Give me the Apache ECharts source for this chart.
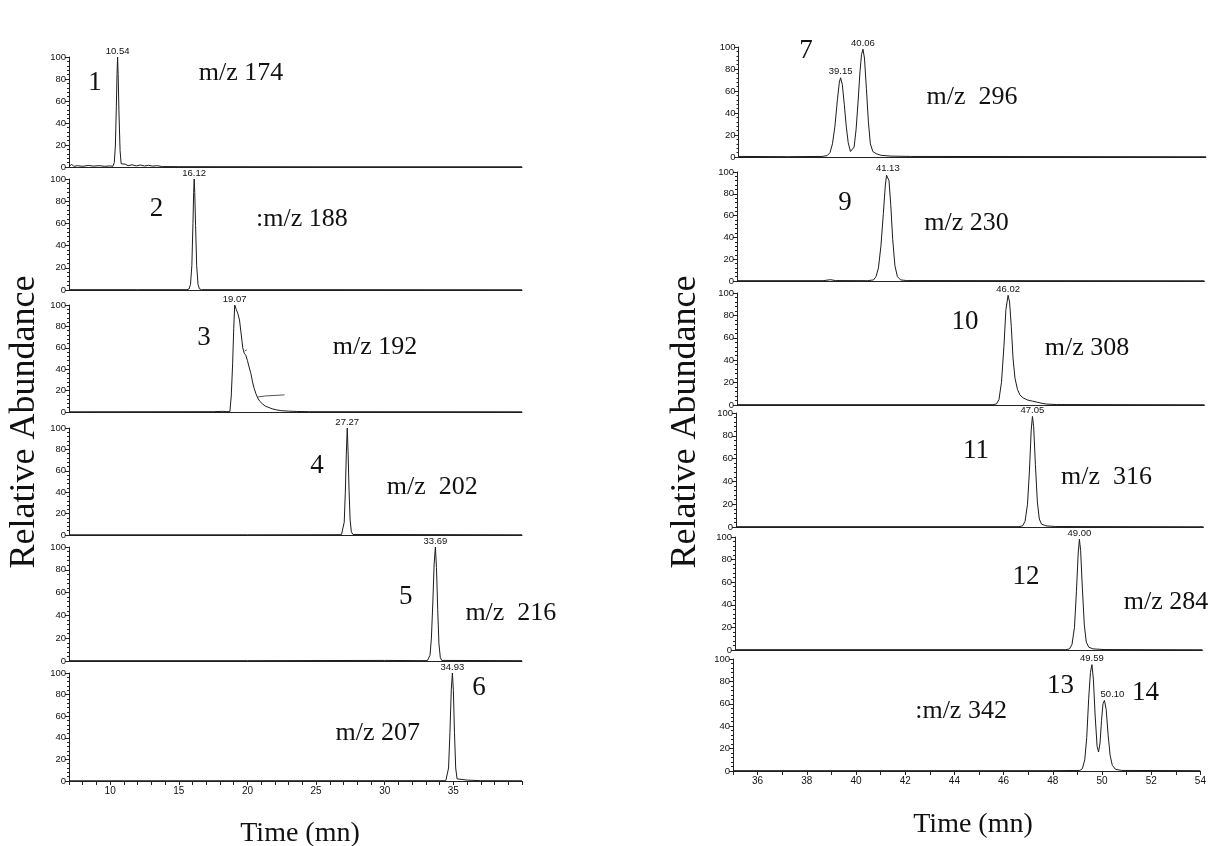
<!DOCTYPE html>
<html>
<head>
<meta charset="utf-8">
<script src="https://cdn.jsdelivr.net/npm/echarts@6/dist/echarts.min.js"></script>
<style>
html,body{margin:0;padding:0;background:#fff;}
#chart{width:1215px;height:846px;}
</style>
</head>
<body>
<div id="chart"></div>
<script>
// ---------- DATA ----------
const leftRange = [7, 40];
const rightRange = [35, 54];
const leftTickLabels = [10, 15, 20, 25, 30, 35];
const rightTickLabels = [36, 38, 40, 42, 44, 46, 48, 50, 52, 54];
const yTickLabels = [0, 20, 40, 60, 80, 100];

const mzLabels = ['m/z 174', ':m/z 188', 'm/z 192', 'm/z  202', 'm/z  216', 'm/z 207',
                  'm/z  296', 'm/z 230', 'm/z 308', 'm/z  316', 'm/z 284', ':m/z 342'];
const compoundNumbers = [['1'], ['2'], ['3'], ['4'], ['5'], ['6'],
                         ['7', '8'], ['9'], ['10'], ['11'], ['12'], ['13', '14']];
const retentionTimes = [[10.54], [16.12], [19.07], [27.27], [33.69], [34.93],
                        [39.15, 40.06], [41.13], [46.02], [47.05], [49.00], [49.59, 50.10]];
const peakHeights = [[100], [100], [100], [100], [100], [100],
                     [72, 98], [98], [98], [97], [98], [95, 63]];

// chromatogram traces: [time (min), relative abundance]
const trace174 = [[7,0.5],[7.2,2.5],[7.35,0.5],[7.6,1.2],[8,0.6],[8.4,1.4],[8.8,0.8],[9.2,1.2],[9.6,0.6],[10,1.0],[10.2,0.6],[10.3,4],[10.38,20],[10.45,55],[10.5,85],[10.54,100],[10.58,84],[10.64,50],[10.72,15],[10.8,3],[10.9,1.5],[11.1,2.5],[11.3,1.2],[11.6,2.0],[11.9,1.0],[12.2,1.8],[12.5,0.9],[12.8,1.5],[13.1,0.8],[13.4,1.2],[13.8,0.4],[15,0.3],[25,0.2],[40,0.2]];
const trace188 = [[7,0.3],[12,0.3],[15.6,0.3],[15.75,1],[15.85,5],[15.95,22],[16.03,60],[16.08,88],[16.12,100],[16.16,88],[16.22,58],[16.3,22],[16.4,5],[16.5,1],[16.65,0.3],[25,0.3],[40,0.2]];
const trace192 = [[7,0.2],[17.5,0.3],[18.2,0.6],[18.5,0.3],[18.72,0.5],[18.82,15],[18.92,45],[19.0,78],[19.07,100],[19.18,96],[19.3,92],[19.42,86],[19.55,72],[19.66,60],[19.76,55],[19.88,53],[20.0,48],[20.12,42],[20.25,36],[20.37,28],[20.49,22],[20.62,17],[20.75,13],[20.9,10],[21.1,7.5],[21.3,5.5],[21.5,4.5],[21.8,3],[22.1,2],[22.5,1.2],[23,0.8],[23.6,0.5],[24.5,0.3],[40,0.2]];
const trace202 = [[7,0.2],[20,0.2],[26.85,0.3],[26.95,2],[27.05,12],[27.13,40],[27.2,75],[27.27,100],[27.33,78],[27.4,42],[27.48,14],[27.57,3],[27.68,0.5],[40,0.2]];
const trace216 = [[7,0.3],[20,0.3],[30,0.5],[33.1,0.3],[33.2,1],[33.3,5],[33.4,20],[33.5,50],[33.6,85],[33.69,100],[33.77,82],[33.86,45],[33.95,15],[34.05,3],[34.15,0.5],[40,0.3]];
const trace207 = [[7,0.2],[30,0.3],[34.45,0.3],[34.55,2],[34.65,12],[34.75,45],[34.85,85],[34.93,100],[35.0,84],[35.08,45],[35.17,12],[35.27,2],[35.4,0.5],[36,0.8],[37,0.3],[40,0.2]];
const trace296 = [[35,0.5],[37,0.3],[38.4,0.5],[38.6,1.2],[38.72,4],[38.82,12],[38.92,28],[39.02,52],[39.1,68],[39.15,72],[39.22,66],[39.3,48],[39.38,28],[39.46,13],[39.55,5],[39.62,4],[39.7,9],[39.78,25],[39.86,50],[39.94,78],[40.0,93],[40.06,98],[40.12,90],[40.2,62],[40.28,32],[40.36,12],[40.46,5],[40.6,3],[40.8,1.5],[41.2,0.8],[42,0.5],[54,0.2]];
const trace230 = [[35,0.3],[38.5,0.3],[38.8,1.2],[39.0,0.4],[40.3,0.3],[40.55,1],[40.65,4],[40.75,12],[40.85,32],[40.95,62],[41.03,88],[41.08,97],[41.13,98],[41.18,92],[41.25,70],[41.33,38],[41.42,14],[41.52,4],[41.65,1],[41.9,0.4],[54,0.2]];
const trace308 = [[35,0.3],[45.4,0.3],[45.55,1],[45.65,5],[45.75,20],[45.85,52],[45.93,85],[46.02,98],[46.08,92],[46.15,70],[46.22,42],[46.3,24],[46.4,14],[46.5,9],[46.62,6.5],[46.8,4.5],[47.0,3.5],[47.2,2.5],[47.4,1.5],[47.6,0.8],[48,0.4],[54,0.2]];
const trace316 = [[35,0.3],[46.5,0.3],[46.65,1],[46.75,5],[46.85,20],[46.93,50],[47.0,85],[47.05,97],[47.1,88],[47.17,55],[47.25,22],[47.33,7],[47.42,2.5],[47.6,1],[48,0.4],[54,0.2]];
const trace284 = [[35,0.3],[48.45,0.3],[48.6,1],[48.7,5],[48.8,20],[48.88,52],[48.95,85],[49.0,98],[49.05,88],[49.12,55],[49.2,22],[49.28,7],[49.38,2.5],[49.55,1],[50,0.4],[54,0.2]];
const trace342 = [[35,0.3],[48,0.3],[49.1,0.5],[49.2,2],[49.3,10],[49.38,30],[49.46,65],[49.53,88],[49.59,95],[49.65,82],[49.72,50],[49.8,22],[49.86,17],[49.92,25],[49.98,45],[50.04,60],[50.1,63],[50.17,55],[50.25,32],[50.33,14],[50.42,5],[50.55,1.5],[50.8,0.5],[54,0.3]];

// stray pen marks visible beside the m/z 192 trace
const marks192 = [[[19.8,57],[19.95,58]], [[20.75,14],[21.3,15],[22.7,16]]];

const traces = [trace174, trace188, trace192, trace202, trace216, trace207,
                trace296, trace230, trace308, trace316, trace284, trace342];

// annotation anchors (time, abundance) in each panel's own scale
const numberAnchors = [[[8.89,76]], [[13.37,73]], [[16.83,69]], [[25.06,65]], [[31.54,56]], [[36.86,86]],
                       [[37.74,96],[41.32,120]], [[39.39,72]], [[44.27,74]], [[44.76,67]], [[46.83,65]], [[48.31,76],[51.77,70]]];
const mzAnchors = [[19.53,85.5], [23.97,64], [29.29,61], [33.47,45], [39.19,42], [29.5,44],
                   [44.49,54], [44.33,53], [49.23,51], [50.06,44], [52.52,42], [44.27,53]];

// ---------- LAYOUT ----------
// [left, top(100), bottom(0)]
const leftPanels = [[69,57,167],[69,179,290],[69,305,412],[69,428,535],[69,547,661],[69,673,781]];
const rightPanels = [[738.5,47,157],[737,172,281],[737,293,405],[736,413,527],[735,537,650],[733,659,771]];
const leftWidth = 453, rightWidth = 467.4;

const axisColor = '#222';
const lineColor = '#1c1c1c';
const sansFont = 'Liberation Sans';
const serifFont = 'Liberation Serif';

function intRange(a, b) { const r = []; for (let v = a; v <= b; v++) r.push(v); return r; }

const grids = [], xAxes = [], yAxes = [], series = [];
for (let i = 0; i < 12; i++) {
  const isLeft = i < 6;
  const p = isLeft ? leftPanels[i] : rightPanels[i - 6];
  const w = isLeft ? leftWidth : rightWidth;
  const range = isLeft ? leftRange : rightRange;
  const bottomPanel = (i === 5 || i === 11);
  grids.push({ left: p[0], top: p[1], width: w, height: p[2] - p[1] });
  xAxes.push({
    type: 'value', gridIndex: i, min: range[0], max: range[1],
    axisLine: { show: true, onZero: false, lineStyle: { color: axisColor, width: 1 } },
    axisTick: bottomPanel ? { show: true, length: 4, inside: false, customValues: intRange(range[0], range[1]), lineStyle: { color: axisColor } } : { show: false },
    axisLabel: bottomPanel ? { show: true, customValues: isLeft ? leftTickLabels : rightTickLabels, fontSize: 10, color: '#111', fontFamily: sansFont, margin: 5 } : { show: false },
    splitLine: { show: false }
  });
  yAxes.push({
    type: 'value', gridIndex: i, min: 0, max: 100, interval: 20,
    axisLine: { show: true, lineStyle: { color: axisColor, width: 1 } },
    axisTick: { show: true, length: 4, lineStyle: { color: axisColor } },
    minorTick: { show: true, splitNumber: 5, length: 2, lineStyle: { color: axisColor } },
    axisLabel: { fontSize: 9.5, color: '#111', fontFamily: sansFont, margin: 3 },
    splitLine: { show: false }
  });

  const mp = [];
  retentionTimes[i].forEach((rt, k) => {
    mp.push({
      coord: [rt, peakHeights[i][k]], symbol: 'circle', symbolSize: 0,
      label: { show: true, position: 'top', distance: 1, formatter: rt.toFixed(2),
               fontSize: 9.5, color: '#111', fontFamily: sansFont,
               offset: (i === 11 && k === 1) ? [8, 0] : [0, 0] }
    });
  });
  numberAnchors[i].forEach((c, k) => {
    mp.push({
      coord: c, symbol: 'circle', symbolSize: 0,
      label: { show: true, position: 'inside', formatter: compoundNumbers[i][k],
               fontSize: 27, color: '#111', fontFamily: serifFont }
    });
  });
  mp.push({
    coord: mzAnchors[i], symbol: 'circle', symbolSize: 0,
    label: { show: true, position: 'inside', formatter: mzLabels[i].replace(/ /g, '\u00a0'),
             fontSize: 26, color: '#111', fontFamily: serifFont }
  });

  series.push({
    type: 'line', xAxisIndex: i, yAxisIndex: i, data: traces[i],
    showSymbol: false, symbol: 'none', clip: false,
    lineStyle: { color: lineColor, width: 1 },
    markPoint: { silent: true, data: mp, itemStyle: { color: 'transparent' } }
  });
}
marks192.forEach(m => {
  series.push({
    type: 'line', xAxisIndex: 2, yAxisIndex: 2, data: m,
    showSymbol: false, symbol: 'none', lineStyle: { color: '#555', width: 1 }
  });
});

const chart = echarts.init(document.getElementById('chart'), null, { renderer: 'canvas' });
chart.setOption({
  animation: false,
  backgroundColor: '#fff',
  grid: grids, xAxis: xAxes, yAxis: yAxes, series: series,
  graphic: [
    { type: 'text', x: 25, y: 422, rotation: Math.PI / 2,
      style: { text: 'Relative Abundance', font: '36px "Liberation Serif"', fill: '#111', align: 'center', verticalAlign: 'middle' } },
    { type: 'text', x: 686, y: 422, rotation: Math.PI / 2,
      style: { text: 'Relative Abundance', font: '36px "Liberation Serif"', fill: '#111', align: 'center', verticalAlign: 'middle' } },
    { type: 'text', x: 300, y: 834,
      style: { text: 'Time (mn)', font: '28px "Liberation Serif"', fill: '#111', align: 'center', verticalAlign: 'middle' } },
    { type: 'text', x: 973, y: 825,
      style: { text: 'Time (mn)', font: '28px "Liberation Serif"', fill: '#111', align: 'center', verticalAlign: 'middle' } }
  ]
});
</script>
</body>
</html>
